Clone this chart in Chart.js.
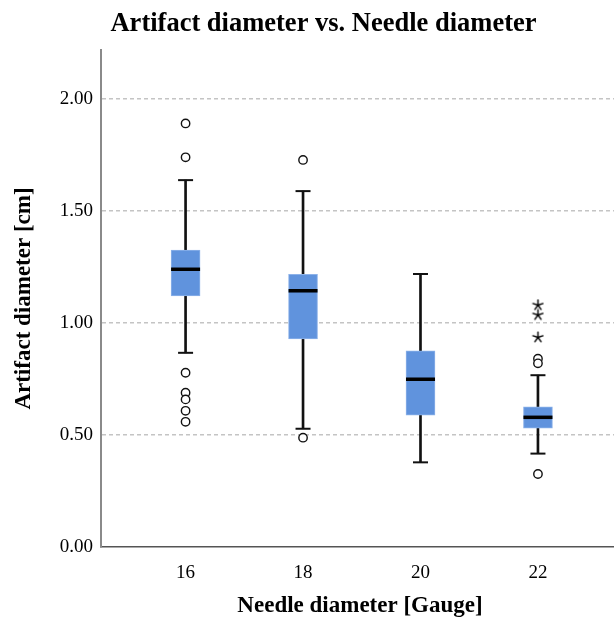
<!DOCTYPE html>
<html><head><meta charset="utf-8">
<script src="https://cdn.jsdelivr.net/npm/chart.js@4.4.0/dist/chart.umd.min.js"></script>
<style>html,body{margin:0;padding:0;background:#fff;overflow:hidden;} #wrap{width:646px;height:618px;}</style>
</head><body><div id="wrap"><canvas id="c" width="646" height="618"></canvas></div>
<script>
// ---- data ----
const gauges = [16, 18, 20, 22];
const whiskerLow = [0.867, 0.528, 0.378, 0.417];
const q1 = [1.121, 0.929, 0.589, 0.530];
const medians = [1.240, 1.144, 0.749, 0.579];
const q3 = [1.326, 1.217, 0.876, 0.626];
const whiskerHigh = [1.638, 1.589, 1.219, 0.767];
const outliers = [[1.891, 1.740, 0.778, 0.689, 0.659, 0.608, 0.559], [1.728, 0.488], [], [0.841, 0.820, 0.326]];
const extremes = [[], [], [], [1.080, 1.036, 0.936]];
const yTicks = [0, 0.5, 1.0, 1.5, 2.0];

const serif = 'Liberation Serif, Times New Roman, serif';

function makeStar() {
  const c = document.createElement('canvas');
  c.width = 13; c.height = 13;
  const g = c.getContext('2d');
  g.strokeStyle = '#000'; g.lineWidth = 1.4; g.lineCap = 'round';
  g.beginPath();
  for (let k = 0; k < 5; k++) {
    const a = -Math.PI / 2 + k * 2 * Math.PI / 5;
    g.moveTo(6.5, 6.5);
    g.lineTo(6.5 + 5.3 * Math.cos(a), 6.5 + 5.3 * Math.sin(a));
  }
  g.stroke();
  return c;
}

const capPoints = [];
gauges.forEach((g, i) => { capPoints.push({x: g, y: whiskerLow[i]}); capPoints.push({x: g, y: whiskerHigh[i]}); });
const outlierPoints = [];
gauges.forEach((g, i) => outliers[i].forEach(v => outlierPoints.push({x: g, y: v})));
const extremePoints = [];
gauges.forEach((g, i) => extremes[i].forEach(v => extremePoints.push({x: g, y: v})));

new Chart(document.getElementById('c'), {
  type: 'bar',
  data: {
    datasets: [
      { type: 'bar', label: 'whiskers', data: gauges.map((g, i) => ({x: g, y: [whiskerLow[i], whiskerHigh[i]]})),
        backgroundColor: '#111', barThickness: 2, grouped: false, order: 5, borderSkipped: false },
      { type: 'bar', label: 'box', data: gauges.map((g, i) => ({x: g, y: [q1[i], q3[i]]})),
        backgroundColor: '#6093dd', borderColor: '#8db2e9', borderWidth: 1, barThickness: 29, grouped: false, order: 4, borderSkipped: false },
      { type: 'scatter', label: 'caps', data: capPoints, pointStyle: 'line', pointRadius: 7.5,
        borderColor: '#111', pointBorderWidth: 2, borderWidth: 2, order: 3 },
      { type: 'scatter', label: 'median', data: gauges.map((g, i) => ({x: g, y: medians[i]})), pointStyle: 'line', pointRadius: 14.5,
        borderColor: '#000', pointBorderWidth: 3.5, borderWidth: 3.5, order: 2 },
      { type: 'scatter', label: 'outliers', data: outlierPoints, pointStyle: 'circle', pointRadius: 4.2,
        backgroundColor: '#fff', borderColor: '#111', pointBorderWidth: 1.4, borderWidth: 1.4, order: 1 },
      { type: 'scatter', label: 'extremes', data: extremePoints, pointStyle: makeStar(), pointRadius: 6, order: 1 }
    ]
  },
  options: {
    responsive: false,
    animation: false,
    events: [],
    layout: { padding: { left: 28, right: 27, top: 0, bottom: 0 } },
    plugins: {
      legend: { display: false },
      tooltip: { enabled: false },
      title: {
        display: true, text: 'Artifact diameter vs. Needle diameter', color: '#000',
        font: { family: serif, size: 26.5, weight: 'bold' }, padding: { top: 8, bottom: 10.2 }
      }
    },
    scales: {
      x: {
        type: 'linear', min: 14.56, max: 23.38, offset: false,
        grid: { display: false, drawTicks: false },
        border: { display: true, color: '#555', width: 1.5 },
        afterBuildTicks: s => { s.ticks = gauges.map(v => ({value: v})); },
        afterFit: s => { s.height = 71; },
        ticks: { color: '#000', font: { family: serif, size: 19 }, padding: 15, callback: v => String(v), maxRotation: 0, autoSkip: false },
        title: { display: true, text: 'Needle diameter [Gauge]', color: '#000', font: { family: serif, size: 23, weight: 'bold' }, padding: { top: 0, bottom: -2 } }
      },
      y: {
        type: 'linear', min: 0, max: 2.219,
        grid: { color: ctx => (ctx.tick && ctx.tick.value === 0) ? 'rgba(0,0,0,0)' : '#c4c4c4', lineWidth: 1.5, drawTicks: false },
        border: { display: true, color: '#8a8a8a', width: 2, dash: [4, 3] },
        afterBuildTicks: s => { s.ticks = yTicks.map(v => ({value: v})); },
        afterFit: s => { s.width = 73; },
        ticks: { color: '#000', font: { family: serif, size: 19 }, padding: 8, callback: v => v.toFixed(2) },
        title: { display: true, text: 'Artifact diameter [cm]', color: '#000', font: { family: serif, size: 23, weight: 'bold' }, padding: { top: -18, bottom: 0 } }
      }
    }
  }
});
</script>
</body></html>
